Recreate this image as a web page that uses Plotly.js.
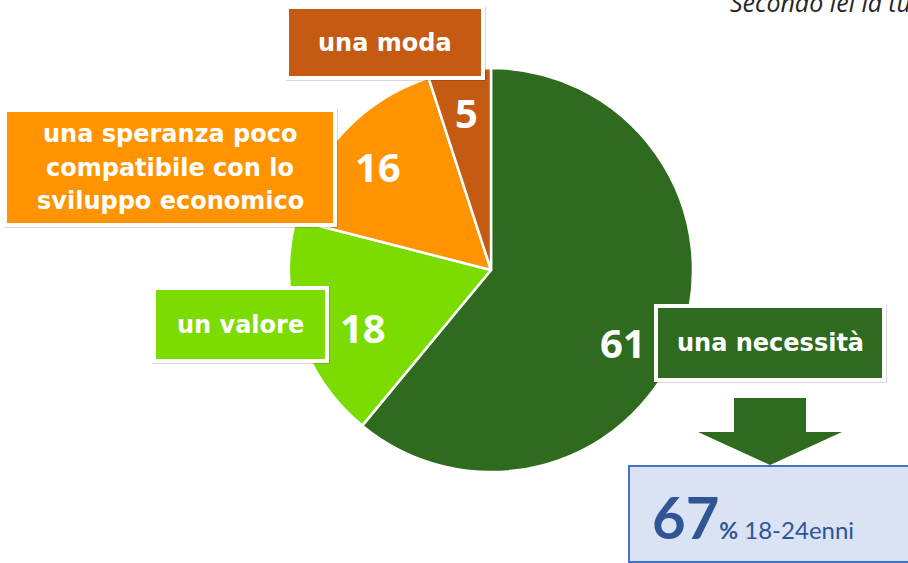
<!DOCTYPE html>
<html>
<head>
<meta charset="utf-8">
<script src="https://cdn.plot.ly/plotly-3.0.1.min.js"></script>
<style>html,body{margin:0;padding:0;background:#fff;}#chart{width:908px;height:563px;}</style>
</head>
<body>
<div id="chart"></div>
<script>
// ---- data ----
const categories = ["una necessità", "un valore", "una speranza poco<br>compatibile con lo<br>sviluppo economico", "una moda"];
const values = [61, 18, 16, 5];
const sliceColors = ["#2e6b1e", "#7cdc00", "#ff9400", "#c55a12"];
const highlightValue = 67;
const highlightUnit = "%";
const highlightGroup = "18-24enni";
const questionText = "Secondo lei la tu";

// ---- layout helpers (pixel -> paper) ----
const W = 908, H = 563;
const px = x => x / W;
const py = y => 1 - y / H;

// label boxes [x0, y0, x1, y1] in pixels, same order as categories
const boxes = [
  [658, 308, 882, 378],
  [156, 290, 325, 359],
  [7, 112, 333, 223],
  [289, 9, 481, 76]
];
// value label centers
const numPos = [[623, 342], [363, 327], [378, 166], [467, 112]];

const shapes = [];
const annotations = [];

boxes.forEach((b, i) => {
  // shadow
  shapes.push({type: "rect", xref: "paper", yref: "paper", layer: "above",
    x0: px(b[0] - 3), x1: px(b[2] + 5), y0: py(b[1] - 3), y1: py(b[3] + 5),
    fillcolor: "rgba(0,0,0,0.15)", line: {width: 0}});
  shapes.push({type: "rect", xref: "paper", yref: "paper", layer: "above",
    x0: px(b[0] - 2), x1: px(b[2] + 2), y0: py(b[1] - 2), y1: py(b[3] + 2),
    fillcolor: sliceColors[i], line: {color: "#ffffff", width: 4}});
  const lines = categories[i].split("<br>");
  const cx = (b[0] + b[2]) / 2, cy = (b[1] + b[3]) / 2;
  const lh = 34;
  lines.forEach((ln, k) => {
    annotations.push({xref: "paper", yref: "paper", x: px(cx),
      y: py(cy + (k - (lines.length - 1) / 2) * lh),
      xanchor: "center", yanchor: "middle", showarrow: false,
      text: "<b>" + ln + "</b>",
      font: {family: "DejaVu Sans", size: 24, color: "#ffffff"}});
  });
});

values.forEach((v, i) => {
  annotations.push({xref: "paper", yref: "paper", x: px(numPos[i][0]), y: py(numPos[i][1]),
    xanchor: "center", yanchor: "middle", showarrow: false,
    text: "<b>" + v + "</b>",
    font: {family: "Open Sans", size: 40, color: "#ffffff"}});
});

// arrow
const arrowPts = [[734, 398], [806, 398], [806, 432], [842, 432], [770, 465], [698, 432], [734, 432]];
shapes.push({type: "path", xref: "paper", yref: "paper", layer: "above",
  path: "M " + arrowPts.map(p => px(p[0]) + "," + py(p[1])).join(" L ") + " Z",
  fillcolor: "#2e6b1e", line: {width: 0}});

// highlight box
shapes.push({type: "rect", xref: "paper", yref: "paper", layer: "above",
  x0: px(629), x1: px(915), y0: py(466), y1: py(562),
  fillcolor: "#dae3f3", line: {color: "#4472c4", width: 2}});
annotations.push({xref: "paper", yref: "paper", x: px(650), y: py(516),
  xanchor: "left", yanchor: "middle", showarrow: false,
  text: "<b><span style='font-size:58px'>" + highlightValue + "</span><span style='font-size:23px'>" + highlightUnit + "</span></b><span style='font-size:24px'> " + highlightGroup + "</span>",
  font: {family: "Lato", size: 24, color: "#2f5597"}});

// question text (cut at the right edge, as in the source)
annotations.push({xref: "paper", yref: "paper", x: px(728), y: py(2),
  xanchor: "left", yanchor: "middle", showarrow: false,
  text: "<i>" + questionText + "</i>",
  font: {family: "Open Sans", size: 25, color: "#262626"}});

const data = [{
  type: "pie",
  labels: categories,
  values: values,
  marker: {colors: sliceColors, line: {color: "#ffffff", width: 2.5}},
  sort: false,
  direction: "clockwise",
  rotation: 0,
  textinfo: "none",
  hoverinfo: "none",
  showlegend: false,
  domain: {x: [px(289), px(693)], y: [py(472), py(68)]}
}];

const layout = {
  width: W, height: H,
  margin: {l: 0, r: 0, t: 0, b: 0},
  paper_bgcolor: "#ffffff",
  showlegend: false,
  shapes: shapes,
  annotations: annotations
};

Plotly.newPlot("chart", data, layout, {staticPlot: true, displayModeBar: false});
</script>
</body>
</html>
